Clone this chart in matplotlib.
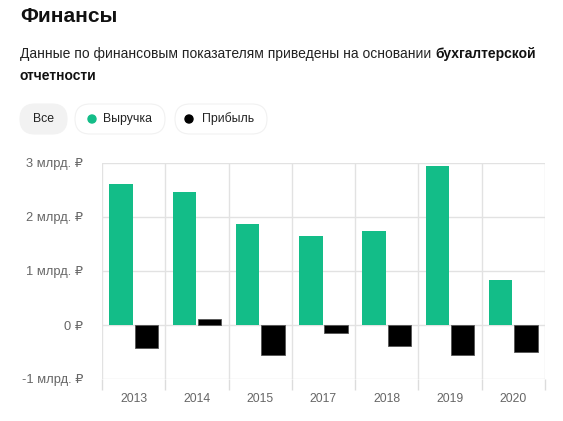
import matplotlib
matplotlib.use("Agg")
import matplotlib.pyplot as plt
import numpy as np
from matplotlib.patches import FancyBboxPatch, Circle

plt.rcParams['font.family'] = ['Liberation Sans', 'DejaVu Sans']

# %% data
years = ['2013', '2014', '2015', '2017', '2018', '2019', '2020']
revenue = [2.61, 2.46, 1.87, 1.64, 1.74, 2.94, 0.83]      # млрд. ₽
profit = [-0.42, 0.12, -0.55, -0.14, -0.38, -0.56, -0.50]  # млрд. ₽
yticks = [-1, 0, 1, 2, 3]
ytick_labels = ['-1 млрд. ₽', '0 ₽', '1 млрд. ₽', '2 млрд. ₽', '3 млрд. ₽']

GREEN = '#13bd88'
W, H = 563, 421

fig = plt.figure(figsize=(W / 100, H / 100), dpi=100)

# overlay in pixel coords for header and legend pills (y measured from the top)
top = fig.add_axes([0, 0, 1, 1])
top.set_xlim(0, W)
top.set_ylim(0, H)
top.axis('off')


def Y(py):
    return H - py


# %% header
top.text(20, Y(16), 'Финансы', fontsize=15, fontweight='bold', va='center', color='#111')
t1 = top.text(20, Y(54), 'Данные по финансовым показателям приведены на основании ',
              fontsize=10, va='center', color='#222')
fig.canvas.draw()
x_end = top.transData.inverted().transform((t1.get_window_extent().x1, 0))[0]
top.text(x_end, Y(54), 'бухгалтерской', fontsize=10, fontweight='bold', va='center', color='#111')
top.text(20, Y(76), 'отчетности', fontsize=10, fontweight='bold', va='center', color='#111')

# pills
pills = [(20, 47, '#f2f2f2', '#f2f2f2'), (75, 90, 'white', '#f1f1f1'), (175, 92, 'white', '#f1f1f1')]
for x0, w, fc, ec in pills:
    top.add_patch(FancyBboxPatch((x0, Y(134)), w, 30,
                                 boxstyle='round,pad=0,rounding_size=15',
                                 fc=fc, ec=ec, lw=0.8))
top.text(43, Y(119), 'Все', fontsize=8.8, ha='center', va='center', color='#222')
top.add_patch(Circle((92, Y(119)), 4, color=GREEN))
top.text(103, Y(119), 'Выручка', fontsize=8.8, va='center', color='#222')
top.add_patch(Circle((189, Y(119)), 4, color='black'))
top.text(202, Y(119), 'Прибыль', fontsize=8.8, va='center', color='#222')

# %% chart
ax = fig.add_axes([102 / W, 1 - 379 / H, (545 - 102) / W, (379 - 163) / H])
x = np.arange(len(years))
ax.bar(x - 0.2, revenue, width=0.37, color=GREEN, zorder=3)
ax.bar(x + 0.2, profit, width=0.37, color='black', edgecolor='#555', lw=0.6, zorder=3)

ax.set_xlim(-0.5, len(years) - 0.5)
ax.set_ylim(-1, 3)
ax.set_xticks(x)
ax.set_xticklabels(years)
ax.set_xticks(np.arange(-0.5, len(years)), minor=True)
ax.set_yticks(yticks)
ax.set_yticklabels(ytick_labels)
ax.tick_params(axis='x', which='major', length=0, pad=10, labelsize=8.8, labelcolor='#666')
ax.tick_params(axis='x', which='minor', length=8, color='#dcdcdc', width=1)
ax.tick_params(axis='y', length=0, pad=13.5, labelsize=9.3, labelcolor='#666')
ax.grid(axis='x', which='minor', color='#e2e2e2', lw=1, zorder=0)
ax.grid(axis='y', which='major', color='#e2e2e2', lw=1, zorder=0)
for s in ax.spines.values():
    s.set_visible(False)

fig.savefig('out.png', dpi=100)
